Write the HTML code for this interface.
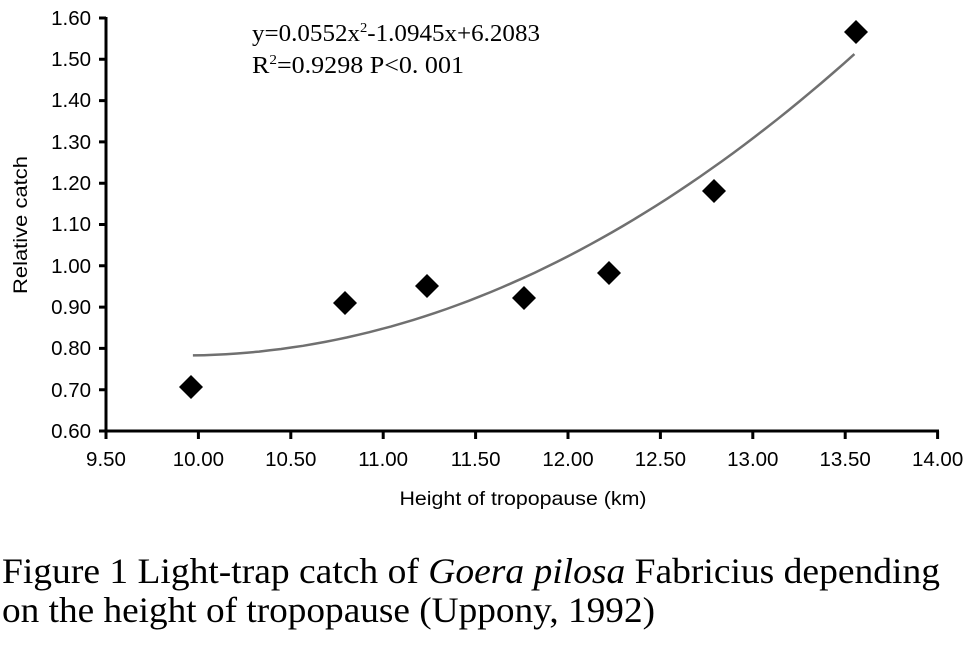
<!DOCTYPE html>
<html><head><meta charset="utf-8"><style>
html,body{margin:0;padding:0;background:#fff;width:969px;height:647px;overflow:hidden}
svg{display:block}
.t{font-family:"Liberation Sans",sans-serif;font-size:20.5px;fill:#000}
.s{font-family:"Liberation Serif",serif;fill:#000}
</style></head><body>
<svg width="969" height="647" viewBox="0 0 969 647" xmlns="http://www.w3.org/2000/svg">
<g stroke="#000" stroke-width="3" fill="none">
<path d="M106,17 V431 H939"/>
<path d="M99,18H106M99,59.3H106M99,100.6H106M99,141.9H106M99,183.2H106M99,224.5H106M99,265.8H106M99,307.1H106M99,348.4H106M99,389.7H106M99,431H106"/>
<path d="M106,431V439M198.4,431V439M290.8,431V439M383.2,431V439M475.6,431V439M568,431V439M660.4,431V439M752.8,431V439M845.2,431V439M937.6,431V439"/>
</g>
<g class="t" text-anchor="end">
<text x="91" y="25">1.60</text><text x="91" y="66">1.50</text><text x="91" y="107">1.40</text>
<text x="91" y="149">1.30</text><text x="91" y="190">1.20</text><text x="91" y="231">1.10</text>
<text x="91" y="273">1.00</text><text x="91" y="314">0.90</text><text x="91" y="355">0.80</text>
<text x="91" y="397">0.70</text><text x="91" y="438">0.60</text>
</g>
<g class="t" text-anchor="middle">
<text x="106" y="466">9.50</text><text x="198.4" y="466">10.00</text><text x="290.8" y="466">10.50</text>
<text x="383.2" y="466">11.00</text><text x="475.6" y="466">11.50</text><text x="568" y="466">12.00</text>
<text x="660.4" y="466">12.50</text><text x="752.8" y="466">13.00</text><text x="845.2" y="466">13.50</text>
<text x="937.6" y="466">14.00</text>
<text x="523" y="505" font-size="19.5" textLength="247" lengthAdjust="spacingAndGlyphs">Height of tropopause (km)</text>
<text transform="translate(27,225) rotate(-90)" font-size="19.5" textLength="138" lengthAdjust="spacingAndGlyphs">Relative catch</text>
</g>
<path id="curve" fill="none" stroke="#707070" stroke-width="2.5" d=""/>
<g fill="#000">
<path d="M191,375l12,12l-12,12l-12,-12z"/>
<path d="M345,291l12,12l-12,12l-12,-12z"/>
<path d="M427,274l12,12l-12,12l-12,-12z"/>
<path d="M524,286l12,12l-12,12l-12,-12z"/>
<path d="M609,261l12,12l-12,12l-12,-12z"/>
<path d="M714,179l12,12l-12,12l-12,-12z"/>
<path d="M856,20l12,12l-12,12l-12,-12z"/>
</g>
<text class="s" x="252" y="41" font-size="24" textLength="288" lengthAdjust="spacingAndGlyphs">y=0.0552x<tspan font-size="14" dy="-9">2</tspan><tspan dy="9">-1.0945x+6.2083</tspan></text>
<text class="s" x="252" y="73" font-size="24" textLength="212" lengthAdjust="spacingAndGlyphs">R<tspan font-size="14" dy="-9">2</tspan><tspan dy="9">=0.9298 P&lt;0. 001</tspan></text>
<text class="s" x="2" y="583" font-size="36" textLength="938" lengthAdjust="spacingAndGlyphs">Figure 1 Light-trap catch of <tspan font-style="italic">Goera pilosa</tspan> Fabricius depending</text>
<text class="s" x="2" y="622" font-size="36" textLength="653" lengthAdjust="spacingAndGlyphs">on the height of tropopause (Uppony, 1992)</text>
</svg>
<script>
var d="";for(var i=0;i<=60;i++){var x=9.97+(13.55-9.97)*i/60;var y=0.0552*x*x-1.0945*x+6.2083;
var px=106+(x-9.5)*184.8,py=431-(y-0.6)*413;d+=(i?"L":"M")+px.toFixed(1)+","+py.toFixed(1);}
document.getElementById("curve").setAttribute("d",d);
</script>
</body></html>
